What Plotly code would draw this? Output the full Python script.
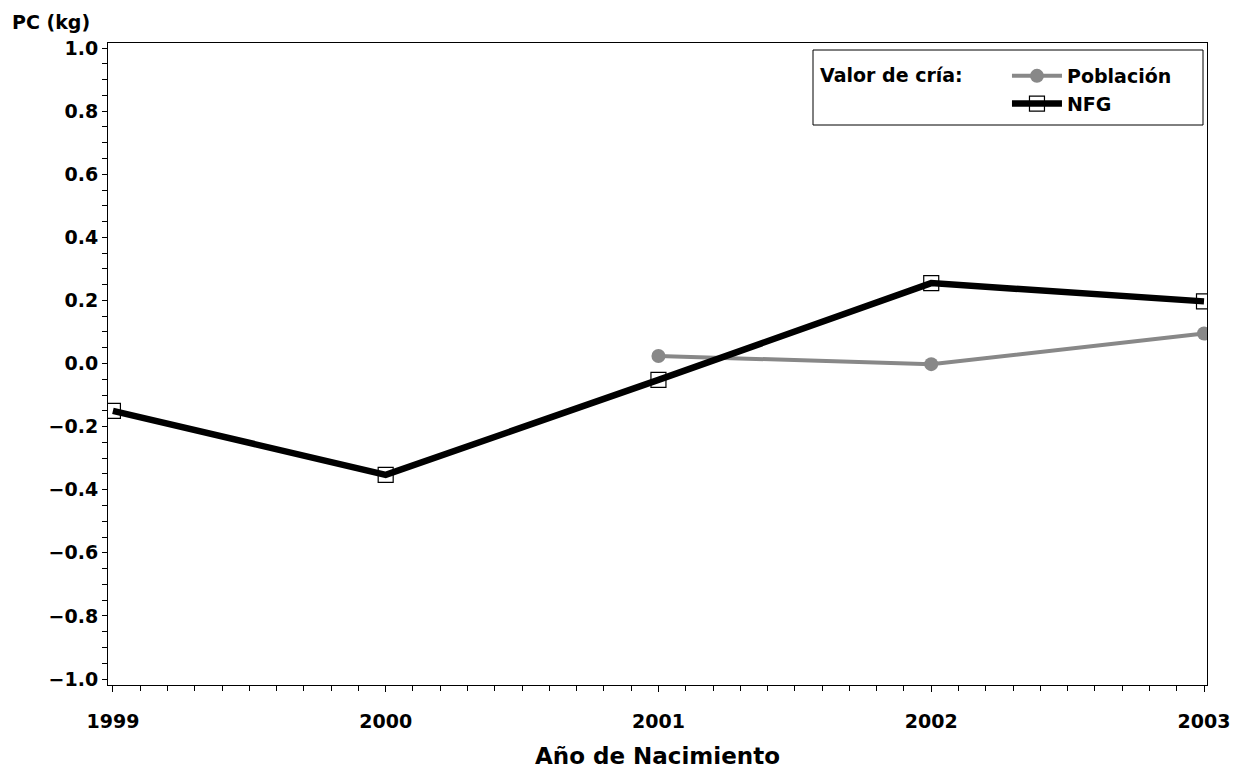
import plotly.graph_objects as go

years_nfg = [1999, 2000, 2001, 2002, 2003]
nfg = [-0.15, -0.353, -0.052, 0.255, 0.197]
years_pob = [2001, 2002, 2003]
poblacion = [0.024, -0.002, 0.095]
x_ticks = [1999, 2000, 2001, 2002, 2003]
y_ticks = [-1.0, -0.8, -0.6, -0.4, -0.2, 0.0, 0.2, 0.4, 0.6, 0.8, 1.0]
y_tick_text = [("\u2212" if v < 0 else "") + f"{abs(v):.1f}" for v in y_ticks]

FONT = "DejaVu Sans"
FS = 19

# plot-area geometry (pixels inside the 1235x768 figure)
L, R, T, B = 100, 36, 35, 91
W, H = 1235, 768
PW, PH = W - L - R, H - T - B


def px_x(p):
    return (p - 8 - L) / PW


def px_y(p):
    return 1 - (p - 8 - T) / PH


fig = go.Figure()
fig.add_trace(go.Scatter(
    x=years_pob, y=poblacion, name="<b>Población</b>", mode="lines+markers",
    line=dict(color="#888888", width=4),
    marker=dict(symbol="circle", size=14, color="#888888"),
))
fig.add_trace(go.Scatter(
    x=years_nfg, y=nfg, name="<b>NFG</b>", mode="lines+markers",
    line=dict(color="#000000", width=6.5),
    marker=dict(symbol="square-open", size=15, color="#000000", line=dict(width=1.2)),
))

fig.update_layout(
    width=W, height=H,
    margin=dict(l=L, r=R, t=T, b=B, autoexpand=False),
    paper_bgcolor="white", plot_bgcolor="white",
    font=dict(family=FONT, size=FS, color="black"),
    showlegend=True,
    legend=dict(
        x=px_x(818), y=px_y(57), xanchor="left", yanchor="top",
        borderwidth=0, bgcolor="rgba(0,0,0,0)",
        title=dict(text="<b>Valor de cría:</b>\u00a0\u00a0\u00a0\u00a0\u00a0\u00a0", side="left", font=dict(size=FS)),
        font=dict(size=FS, family=FONT),
        itemwidth=50, tracegroupgap=0,
    ),
    shapes=[dict(
        type="rect", xref="paper", yref="paper",
        x0=px_x(813), x1=px_x(1203), y0=px_y(125), y1=px_y(50),
        line=dict(color="black", width=1), fillcolor="rgba(0,0,0,0)", layer="above",
    )],
    xaxis=dict(
        range=[1998.982, 2003.011], tickvals=x_ticks,
        ticktext=[f"<b>{v}</b>" for v in x_ticks],
        showgrid=False, zeroline=False, showline=True, linecolor="black", linewidth=1,
        mirror=True, ticks="outside", ticklen=6, tickcolor="black",
        ticklabelstandoff=13, automargin=False,
        minor=dict(dtick=0.1, ticks="outside", ticklen=5, tickcolor="black", showgrid=False),
        title=dict(text="<b>Año de Nacimiento</b>", standoff=17),
    ),
    yaxis=dict(
        range=[-1.019, 1.016], tickvals=y_ticks, ticktext=[f"<b>{t}</b>" for t in y_tick_text],
        showgrid=False, zeroline=False, showline=True, linecolor="black", linewidth=1,
        mirror=True, ticks="outside", ticklen=5, tickcolor="black", automargin=False,
        minor=dict(dtick=0.05, ticks="outside", ticklen=5, tickcolor="black", showgrid=False),
    ),
    annotations=[dict(
        text="<b>PC (kg)</b>", xref="paper", yref="paper", x=px_x(10), y=px_y(22),
        xanchor="left", yanchor="middle", showarrow=False, font=dict(size=FS),
    )],
)

fig.write_html("out.html")
